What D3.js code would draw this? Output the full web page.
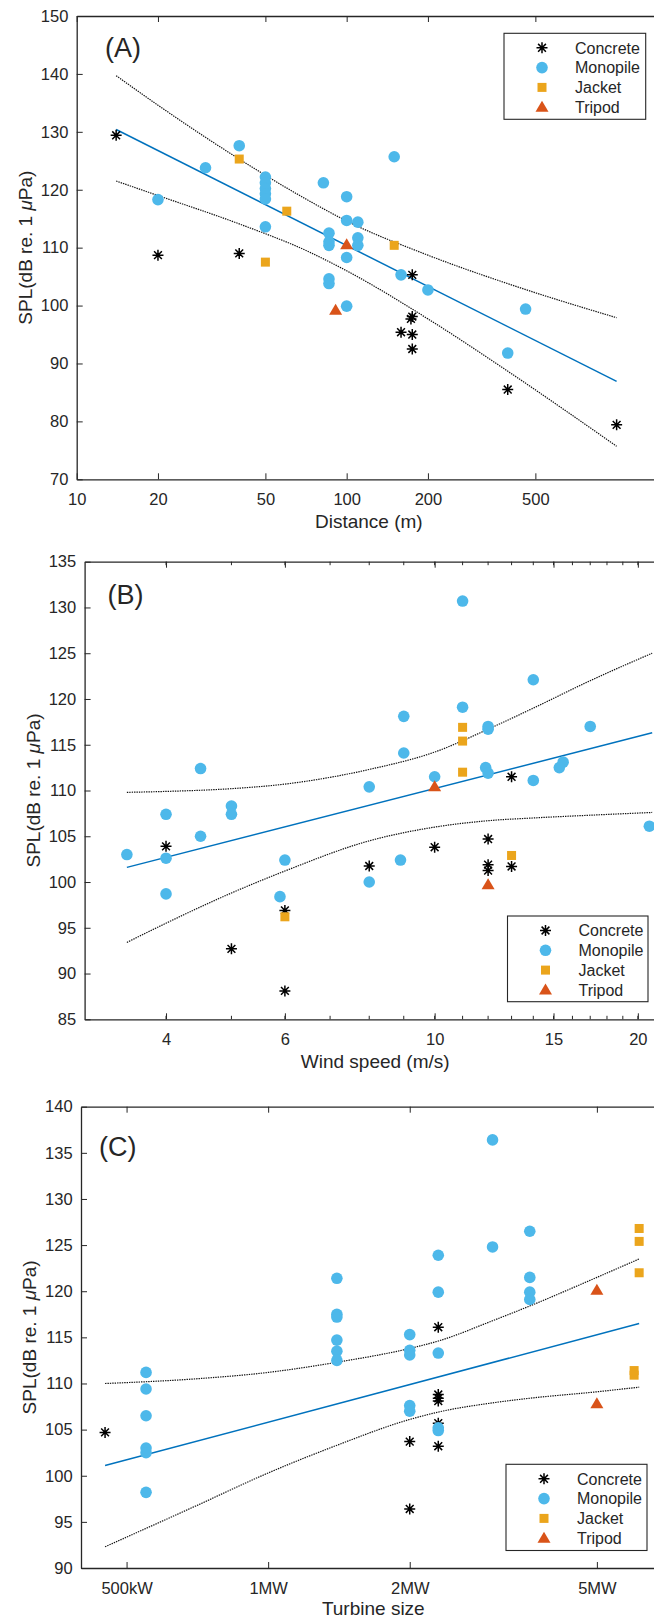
<!DOCTYPE html>
<html>
<head>
<meta charset="utf-8">
<script src="https://d3js.org/d3.v7.min.js"></script>
<style>
  html, body { margin: 0; padding: 0; background: #fff; }
  svg { display: block; }
  text { font-family: "Liberation Sans", Arial, Helvetica, sans-serif; fill: #262626; }
</style>
</head>
<body>
<div id="chart"></div>
<script>
// ---- Panel A: SPL against distance (m) ----
var distConcrete = [[14,129.4],[20,108.7],[40,109.0],[159,95.4],[175,105.3],[175,98.1],[173,97.7],[175,95.0],[175,92.5],[395,85.5],[1000,79.4]];
var distMonopile = [[20,118.3],[30,123.8],[40,127.6],[50,122.2],[50,121.2],[50,120.2],[50,119.3],[50,118.4],[50,113.6],[82,121.2],[86,112.5],[86,111.0],[86,110.4],[86,104.6],[86,103.8],[100,118.8],[100,114.7],[100,108.3],[100,99.9],[110,114.4],[110,111.7],[110,110.4],[150,125.7],[159,105.3],[200,102.7],[395,91.8],[460,99.4]];
var distJacket = [[40,125.3],[50,107.5],[60,116.3],[150,110.4]];
var distTripod = [[91,99.2],[100,110.5]];
var distFit = [[14,130.4],[1000,86.9]];
var distUpper = [[14,139.7],[20,134.6],[40,125.3],[70,118.5],[100,114.6],[200,108.7],[400,103.7],[1000,97.9]];
var distLower = [[14,121.5],[20,119.0],[40,114.1],[70,109.6],[100,106.0],[200,97.7],[400,88.5],[1000,75.7]];
var distTicks = [10, 20, 50, 100, 200, 500];
var splTicksA = [70, 80, 90, 100, 110, 120, 130, 140, 150];

// ---- Panel B: SPL against wind speed (m/s) ----
var windConcrete = [[4,103.9],[5,92.7],[6,96.9],[6,88.1],[8,101.75],[10,103.8],[12,104.7],[12,101.9],[12,101.25],[13,111.5],[13,101.7]];
var windMonopile = [[3.5,103.0],[4,107.4],[4,102.6],[4,98.7],[4.5,112.4],[4.5,105.0],[5,108.3],[5,107.4],[5.9,98.4],[6,102.4],[8,110.4],[8,100.0],[8.9,102.4],[9,118.1],[9,114.1],[10,111.5],[11,130.7],[11,119.1],[12,117.0],[12,116.7],[11.9,112.5],[12,111.9],[14,122.1],[14,111.1],[15.5,113.1],[15.3,112.5],[17,117.0],[20.8,106.1]];
var windJacket = [[6,96.2],[11,116.9],[11,115.4],[11,112.0],[13,102.9]];
var windTripod = [[10,110.4],[12,99.7]];
var windFit = [[3.5,101.6],[21,116.3]];
var windUpper = [[3.5,109.8],[4,109.9],[5,110.2],[6,110.7],[8,112.3],[10,114.2],[12,116.7],[14,119.0],[17,122.0],[21,125.0]];
var windLower = [[3.5,93.4],[4,95.5],[5,98.8],[6,101.2],[8,104.5],[10,106.0],[12,106.7],[14,107.0],[17,107.3],[21,107.6]];
var windTicks = [4, 6, 10, 15, 20];
var windMinorTicks = [4, 5, 6, 7, 8, 9, 10, 11, 12, 13, 14, 15, 16, 17, 18, 19, 20];
var splTicksB = [85, 90, 95, 100, 105, 110, 115, 120, 125, 130, 135];

// ---- Panel C: SPL against turbine size (MW) ----
var sizeConcrete = [[0.45,104.7],[2,103.7],[2,96.4],[2.3,116.1],[2.3,108.8],[2.3,108.4],[2.3,108.1],[2.3,105.7],[2.3,103.2]];
var sizeMonopile = [[0.55,111.2],[0.55,109.4],[0.55,106.5],[0.55,103.0],[0.55,102.5],[0.55,98.2],[1.4,121.4],[1.4,117.5],[1.4,117.2],[1.4,114.7],[1.4,113.5],[1.4,112.5],[2,115.3],[2,113.6],[2,113.1],[2,107.6],[2,107.0],[2.3,123.9],[2.3,119.9],[2.3,113.3],[2.3,105.2],[2.3,104.9],[3,136.4],[3,124.8],[3.6,126.5],[3.6,121.5],[3.6,119.9],[3.6,119.1]];
var sizeJacket = [[6,111.4],[6,110.9],[6.15,126.8],[6.15,125.4],[6.15,122.0]];
var sizeTripod = [[5,120.1],[5,107.8]];
var sizeFit = [[0.45,101.1],[6.15,116.5]];
var sizeUpper = [[0.45,110.0],[0.7,110.5],[1,111.2],[1.4,112.3],[2,113.8],[2.3,114.6],[3,116.8],[3.6,118.4],[5,121.5],[6.15,123.5]];
var sizeLower = [[0.45,92.3],[0.7,96.7],[1,100.3],[1.4,103.3],[2,106.1],[2.3,106.9],[3,107.9],[3.6,108.4],[5,109.1],[6.15,109.6]];
var sizeTicks = [0.5, 1, 2, 5];
var sizeTickLabels = ["500kW", "1MW", "2MW", "5MW"];
var splTicksC = [90, 95, 100, 105, 110, 115, 120, 125, 130, 135, 140];

var legendNames = ["Concrete", "Monopile", "Jacket", "Tripod"];

var colors = {
    concrete: "#000000",
    monopile: "#4DB8EA",
    jacket: "#EBA51C",
    tripod: "#D95319",
    fit: "#0072BD",
    axis: "#262626"
};

var svg = d3.select('#chart').append('svg')
    .attr('width', 654)
    .attr('height', 1620);

// Draws one kind of marker for a list of [x, y] points.
var drawMarkers = function(g, data, kind, x, y) {
    var sel = g.append('g').selectAll('.m').data(data).enter();
    if (kind === 'concrete') {
        sel.append('path')
            .attr('d', 'M-5.5,0H5.5M0,-5.5V5.5M-3.9,-3.9L3.9,3.9M-3.9,3.9L3.9,-3.9')
            .attr('stroke', colors.concrete)
            .attr('stroke-width', 1.5)
            .attr('fill', 'none')
            .attr('transform', function(d) { return 'translate(' + x(d[0]) + ',' + y(d[1]) + ')'; });
    } else if (kind === 'monopile') {
        sel.append('circle')
            .attr('r', 5.8)
            .attr('fill', colors.monopile)
            .attr('cx', function(d) { return x(d[0]); })
            .attr('cy', function(d) { return y(d[1]); });
    } else if (kind === 'jacket') {
        sel.append('rect')
            .attr('width', 9).attr('height', 9)
            .attr('fill', colors.jacket)
            .attr('x', function(d) { return x(d[0]) - 4.5; })
            .attr('y', function(d) { return y(d[1]) - 4.5; });
    } else {
        sel.append('path')
            .attr('d', 'M0,-6.5L6.5,4.5L-6.5,4.5Z')
            .attr('fill', colors.tripod)
            .attr('transform', function(d) { return 'translate(' + x(d[0]) + ',' + y(d[1]) + ')'; });
    }
};

// Small legend box; p = {x, y, w, h}
var drawLegend = function(p) {
    var g = svg.append('g').attr('transform', 'translate(' + p.x + ',' + p.y + ')');
    g.append('rect')
        .attr('width', p.w).attr('height', p.h)
        .attr('fill', '#fff')
        .attr('stroke', colors.axis)
        .attr('stroke-width', 1.1);
    var kinds = ['concrete', 'monopile', 'jacket', 'tripod'];
    kinds.forEach(function(k, i) {
        var cy = 14.5 + i * 19.8;
        var ident = function(v) { return v; };
        drawMarkers(g, [[38, cy]], k, ident, ident);
        g.append('text')
            .attr('x', 71).attr('y', cy)
            .attr('dy', '0.36em')
            .style('font-size', '16px')
            .text(legendNames[i]);
    });
};

var drawPanel = function(cfg) {
    var x = cfg.x, y = cfg.y;
    var xr = x.range(), yr = y.range();
    var g = svg.append('g');

    // bottom axis with labels, ticks pointing inward
    var bottom = g.append('g')
        .attr('transform', 'translate(0,' + yr[0] + ')')
        .call(d3.axisBottom(x).tickValues(cfg.xTicks).tickFormat(cfg.xFormat)
            .tickSizeInner(-6).tickSizeOuter(0).tickPadding(14.3));
    // top border
    var top = g.append('g')
        .attr('transform', 'translate(0,' + yr[1] + ')')
        .call(d3.axisTop(x).tickValues(cfg.xTicks).tickFormat('')
            .tickSizeInner(-6).tickSizeOuter(0));
    var left = g.append('g')
        .attr('transform', 'translate(' + xr[0] + ',0)')
        .call(d3.axisLeft(y).tickValues(cfg.yTicks)
            .tickSizeInner(-6).tickSizeOuter(0).tickPadding(8.4));

    [bottom, top, left].forEach(function(a) {
        a.attr('font-family', null).attr('font-size', null);
        a.select('.domain').attr('stroke', colors.axis).attr('stroke-width', 1.3);
        a.selectAll('.tick line').attr('stroke', colors.axis).attr('stroke-width', 1);
        a.selectAll('.tick text').attr('fill', colors.axis).style('font-size', '16.5px');
    });

    // minor ticks (wind speed only)
    if (cfg.xMinor) {
        [yr[0], yr[1]].forEach(function(yy, j) {
            g.append('g').selectAll('line').data(cfg.xMinor).enter().append('line')
                .attr('x1', function(d) { return x(d); })
                .attr('x2', function(d) { return x(d); })
                .attr('y1', yy)
                .attr('y2', j === 0 ? yy - 3.5 : yy + 3.5)
                .attr('stroke', colors.axis);
        });
    }

    // confidence bands and fit
    var line = d3.line()
        .x(function(d) { return x(d[0]); })
        .y(function(d) { return y(d[1]); })
        .curve(d3.curveMonotoneX);
    [cfg.upper, cfg.lower].forEach(function(band) {
        g.append('path').datum(band)
            .attr('d', line)
            .attr('fill', 'none')
            .attr('stroke', '#111')
            .attr('stroke-width', 1.2)
            .attr('stroke-dasharray', '1.4,1');
    });
    g.append('path').datum(cfg.fit)
        .attr('d', d3.line().x(function(d) { return x(d[0]); }).y(function(d) { return y(d[1]); }))
        .attr('fill', 'none')
        .attr('stroke', colors.fit)
        .attr('stroke-width', 1.5);

    drawMarkers(g, cfg.concrete, 'concrete', x, y);
    drawMarkers(g, cfg.monopile, 'monopile', x, y);
    drawMarkers(g, cfg.jacket, 'jacket', x, y);
    drawMarkers(g, cfg.tripod, 'tripod', x, y);

    // panel letter
    g.append('text')
        .attr('x', cfg.tag[0]).attr('y', cfg.tag[1])
        .style('font-size', '27px')
        .text(cfg.letter);

    // axis titles
    g.append('text')
        .attr('x', (xr[0] + xr[1]) / 2).attr('y', yr[0] + cfg.xTitleDy)
        .attr('text-anchor', 'middle')
        .style('font-size', '19px')
        .text(cfg.xTitle);
    var yt = g.append('text')
        .attr('transform', 'translate(' + cfg.yTitleX + ',' + (yr[0] + yr[1]) / 2 + ') rotate(-90)')
        .attr('text-anchor', 'middle')
        .style('font-size', '19px');
    yt.append('tspan').text('SPL(dB re. 1 ');
    yt.append('tspan').style('font-style', 'italic').text('\u03bc');
    yt.append('tspan').text('Pa)');

    drawLegend(cfg.legend);
};

drawPanel({
    letter: '(A)', tag: [105, 56.5],
    x: d3.scaleLog().domain([10, 1460]).range([76.7, 661]),
    y: d3.scaleLinear().domain([70, 150]).range([479.3, 16]),
    xTicks: distTicks, xFormat: d3.format('d'),
    yTicks: splTicksA,
    concrete: distConcrete, monopile: distMonopile, jacket: distJacket, tripod: distTripod,
    fit: distFit, upper: distUpper, lower: distLower,
    xTitle: 'Distance (m)', xTitleDy: 49, yTitleX: 31.5,
    legend: {x: 504, y: 33.3, w: 141.7, h: 86}
});

drawPanel({
    letter: '(B)', tag: [107.5, 603.5],
    x: d3.scaleLog().domain([3.03, 22]).range([84.6, 665.8]),
    y: d3.scaleLinear().domain([85, 135]).range([1019.3, 561.7]),
    xTicks: windTicks, xFormat: d3.format('d'), xMinor: windMinorTicks,
    yTicks: splTicksB,
    concrete: windConcrete, monopile: windMonopile, jacket: windJacket, tripod: windTripod,
    fit: windFit, upper: windUpper, lower: windLower,
    xTitle: 'Wind speed (m/s)', xTitleDy: 49, yTitleX: 39.5,
    legend: {x: 507.5, y: 916, w: 140.5, h: 85.7}
});

drawPanel({
    letter: '(C)', tag: [99, 1155.5],
    x: d3.scaleLog().domain([0.4, 7]).range([81, 665.6]),
    y: d3.scaleLinear().domain([90, 140]).range([1568, 1106.7]),
    xTicks: sizeTicks, xFormat: function(d, i) { return sizeTickLabels[i]; },
    yTicks: splTicksC,
    concrete: sizeConcrete, monopile: sizeMonopile, jacket: sizeJacket, tripod: sizeTripod,
    fit: sizeFit, upper: sizeUpper, lower: sizeLower,
    xTitle: 'Turbine size', xTitleDy: 47, yTitleX: 35.8,
    legend: {x: 506, y: 1464.3, w: 141, h: 86.2}
});
</script>
</body>
</html>
